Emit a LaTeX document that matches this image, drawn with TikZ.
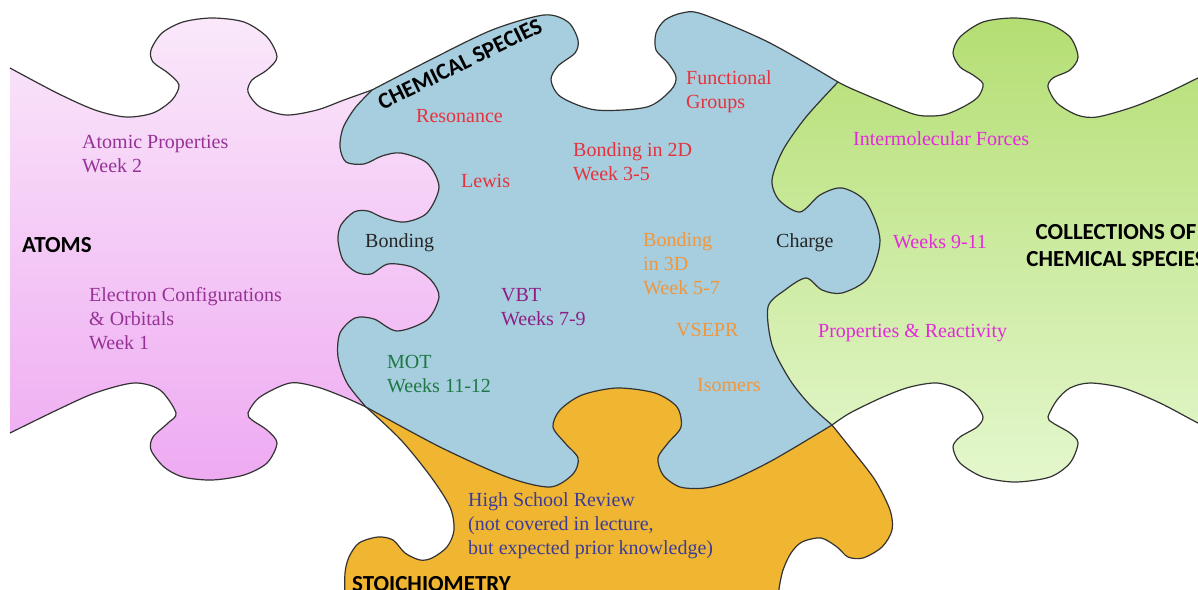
\documentclass[tikz,border=0pt]{standalone}
\usepackage{fontspec}
\setmainfont{Liberation Serif}
\newfontfamily\headfont{Carlito}
\usetikzlibrary{positioning}

\definecolor{pinkA}{HTML}{FAE8FA}
\definecolor{pinkB}{HTML}{EEAAF2}
\definecolor{greenA}{HTML}{B4DE73}
\definecolor{greenB}{HTML}{E4F7CD}
\definecolor{pieceblue}{HTML}{A6CEDE}
\definecolor{pieceorange}{HTML}{F0B632}
\definecolor{txtpurple}{HTML}{963296}
\definecolor{txtvbt}{HTML}{8E1E86}
\definecolor{txtred}{HTML}{E6323C}
\definecolor{txtorange}{HTML}{F0963C}
\definecolor{txtgreen}{HTML}{1E7846}
\definecolor{txtmagenta}{HTML}{E628DC}
\definecolor{txtindigo}{HTML}{3C3C96}

\begin{document}
\begin{tikzpicture}[
    x=1pt, y=-1pt,
    edge/.style={draw=black!80, line width=1.2pt, line join=round},
    topic/.style={inner sep=0pt, align=left, font=\fontsize{20}{24}\selectfont},
    heading/.style={inner sep=0pt, align=center, font=\headfont\bfseries\fontsize{23}{27}\selectfont, text=black}
]
\useasboundingbox (0,0) rectangle (1198,589);
\clip (0,0) rectangle (1198,589);

% Pieces
% atoms (left edge open, so it is filled but not stroked)
\draw[edge, top color=pinkA, middle color=pinkB, bottom color=pinkB]
  plot[smooth] coordinates {(10,68) (57,93) (95,110) (126,117) (153,113) (172,100) (179,85) (168,73) (153,62) (151,50) (162,33) (183,22) (212,18) (244,22) (267,37) (277,57) (267,70) (252,80) (248,92) (260,107) (286,115) (317,110) (344,100) (372,90)}
  -- (450,110) -- (460,300) -- (450,420)
  -- plot[smooth] coordinates {(366,407) (344,397) (317,387) (290,383) (260,397) (248,413) (252,420) (267,430) (277,443) (267,463) (244,475) (212,480) (183,477) (164,467) (151,450) (153,437) (168,423) (176,413) (160,390) (134,383) (95,393) (57,410) (10,433)};

% collections
\draw[edge, top color=greenA, middle color=greenA, bottom color=greenB]
  plot[smooth] coordinates {(838,82) (850,88) (883,102) (917,115) (943,115) (963,107) (978,97) (983,84) (973,75) (960,67) (953,53) (960,37) (983,22) (1015,18) (1047,23) (1070,37) (1078,57) (1070,70) (1053,78) (1048,87) (1057,103) (1077,115) (1097,117) (1133,107) (1167,93) (1198,78) (1215,71)}
  -- plot[smooth] coordinates {(1215,430) (1198,423) (1160,403) (1123,388) (1090,383) (1070,388) (1057,400) (1048,417) (1053,423) (1070,433) (1078,443) (1070,463) (1050,477) (1015,482) (983,477) (960,463) (953,447) (960,437) (977,427) (983,417) (975,403) (960,390) (937,383) (910,387) (883,397) (850,413) (832,425)}
  -- (760,400) -- (740,200) -- (790,70) -- cycle;

% stoichiometry
\draw[edge, fill=pieceorange]
  plot[smooth] coordinates {(366,407) (401,440) (431,477) (450,507) (454,530) (447,547) (432,558) (420,560) (405,553) (393,540) (378,537) (359,543) (349,557) (345,573) (345,600)}
  -- plot[smooth] coordinates {(779,600) (779,589) (783,570) (791,553) (802,542) (821,538) (837,547) (848,557) (863,558) (882,547) (892,530) (890,510) (875,480) (852,450) (832,425)}
  -- (720,440) -- (690,380) -- (560,380) -- (470,430) -- cycle;

% chemical species
\draw[edge, fill=pieceblue]
  plot[smooth] coordinates {(372,90) (430,60) (492,30) (544,15) (568,22) (578,40) (575,53) (558,66) (551,80) (561,97) (596,110) (647,107) (671,90) (676,77) (668,63) (656,50) (656,33) (665,20) (682,13) (702,14) (768,42) (838,82)}
  -- plot[smooth] coordinates {(838,82) (806,117) (783,150) (772,180) (779,200) (800,212) (820,195) (842,188) (866,202) (880,240) (868,278) (842,293) (822,290) (806,278) (785,290) (768,307) (772,345) (790,380) (810,405) (832,425)}
  -- plot[smooth] coordinates {(832,425) (773,460) (730,481) (705,488) (680,487) (663,475) (658,458) (668,443) (681,427) (677,407) (655,393) (617,388) (582,395) (560,410) (553,427) (565,443) (578,458) (573,474) (550,487) (507,477) (440,447) (366,407)}
  -- plot[smooth] coordinates {(366,407) (347,383) (338,357) (340,333) (355,318) (374,319) (397,331) (427,320) (439,297) (431,280) (412,267) (388,264) (371,274) (356,272) (343,260) (338,240) (341,225) (354,212) (368,211) (384,218) (405,222) (427,213) (439,187) (427,163) (401,153) (382,156) (364,164) (346,162) (340,147) (343,128) (355,108) (372,90)}
  -- cycle;

% Headings
\node[heading, anchor=base west] (atoms) at (22,252) {ATOMS};
\node[heading, rotate=26] (chemsp) at (460,64) {CHEMICAL SPECIES};
\node[heading, anchor=north] (collect) at (1116,224) {COLLECTIONS OF\\CHEMICAL SPECIES};
\node[heading, anchor=base west] (stoich) at (352,591) {STOICHIOMETRY};

% Topics
\node[topic, text=txtpurple, anchor=north west] (atomprop) at (82,135) {Atomic Properties\\Week 2};
\node[topic, text=txtpurple, anchor=north west] (elconf) at (89,287) {Electron Configurations\\\& Orbitals\\Week 1};
\node[topic, text=txtred, anchor=base west] (reson) at (416,122) {Resonance};
\node[topic, text=txtred, anchor=north west] (funcgr) at (686,70) {Functional\\Groups};
\node[topic, text=txtred, anchor=north west] (bond2d) at (573,142) {Bonding in 2D\\Week 3-5};
\node[topic, text=txtred, anchor=base west] (lewis) at (461,187) {Lewis};
\node[topic, text=black!85, anchor=base west] (bonding) at (365,247) {Bonding};
\node[topic, text=txtorange, anchor=north west] (bond3d) at (643,232) {Bonding\\in 3D\\Week 5-7};
\node[topic, text=black!85, anchor=base west] (charge) at (776,247) {Charge};
\node[topic, text=txtvbt, anchor=north west] (vbt) at (501,288) {VBT\\Weeks 7-9};
\node[topic, text=txtorange, anchor=base west] (vsepr) at (676,336) {VSEPR};
\node[topic, text=txtgreen, anchor=north west] (mot) at (387,355) {MOT\\Weeks 11-12};
\node[topic, text=txtorange, anchor=base west] (isomers) at (697,391) {Isomers};
\node[topic, text=txtmagenta, anchor=base west] (imf) at (853,145) {Intermolecular Forces};
\node[topic, text=txtmagenta, anchor=base west] (wk911) at (893,248) {Weeks 9-11};
\node[topic, text=txtmagenta, anchor=base west] (propreac) at (818,337) {Properties \& Reactivity};
\node[topic, text=txtindigo, anchor=north west] (hsreview) at (468,492) {High School Review\\(not covered in lecture,\\but expected prior knowledge)};
\end{tikzpicture}
\end{document}
